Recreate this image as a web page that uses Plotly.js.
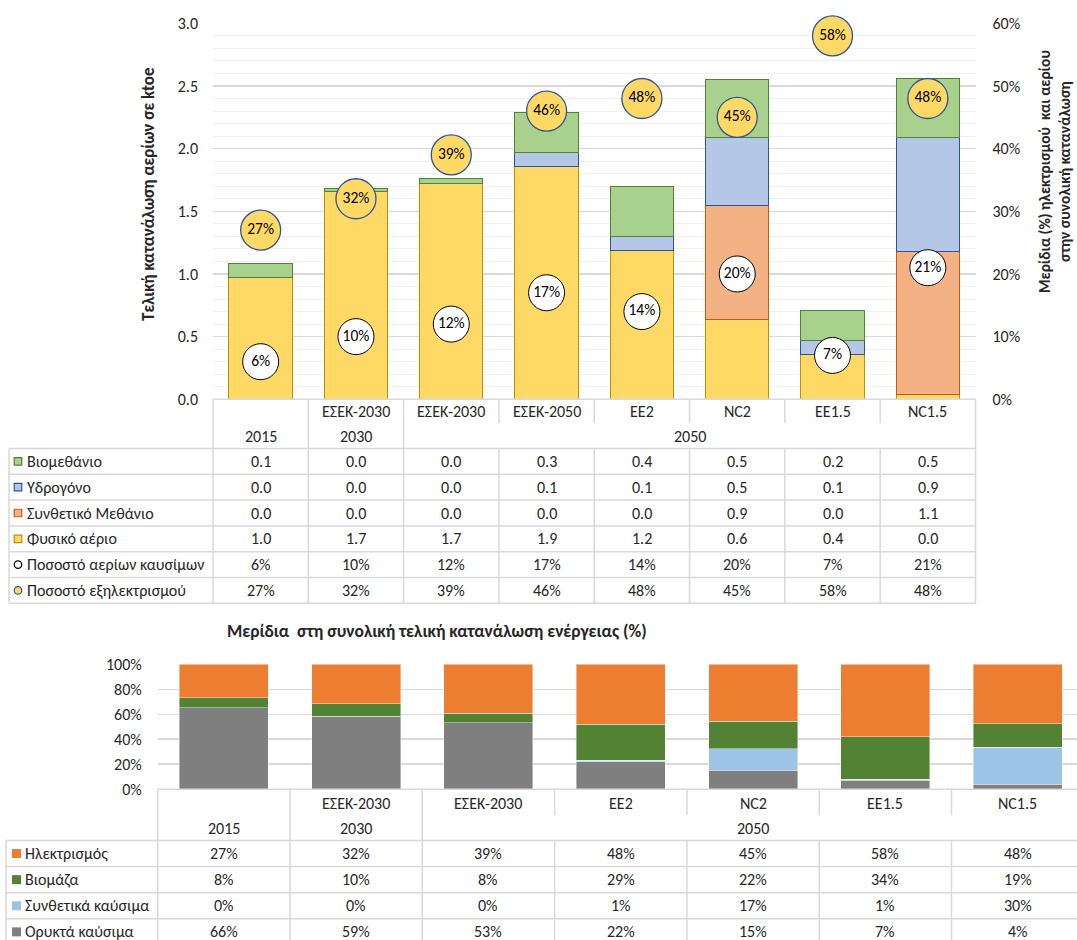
<!DOCTYPE html>
<html>
<head>
<meta charset="utf-8">
<script src="https://cdn.plot.ly/plotly-3.0.1.min.js"></script>
<style>
  html, body { margin: 0; padding: 0; background: #ffffff; }
  #chart { width: 1077px; height: 940px; }
</style>
</head>
<body>
<div id="chart"></div>
<script>
// ---------- DATA: top chart (ktoe and shares) ----------
const scenariosTop = ['', 'ΕΣΕΚ-2030', 'ΕΣΕΚ-2030', 'ΕΣΕΚ-2050', 'EE2', 'NC2', 'EE1.5', 'NC1.5'];
const yearsTop = ['2015', '2030', '2050', '2050', '2050', '2050', '2050', '2050'];
const biomethane = [0.11, 0.02, 0.04, 0.32, 0.40, 0.46, 0.24, 0.47];
const hydrogen = [0.00, 0.00, 0.00, 0.11, 0.11, 0.54, 0.11, 0.91];
const syntheticMethane = [0.00, 0.00, 0.00, 0.00, 0.00, 0.91, 0.00, 1.14];
const naturalGas = [0.97, 1.66, 1.72, 1.86, 1.19, 0.64, 0.36, 0.04];
const gasShare = [6, 10, 12, 17, 14, 20, 7, 21];
const electrificationShare = [27, 32, 39, 46, 48, 45, 58, 48];

// ---------- DATA: bottom chart (% of total final energy consumption) ----------
const scenariosBottom = ['', 'ΕΣΕΚ-2030', 'ΕΣΕΚ-2030', 'EE2', 'NC2', 'EE1.5', 'NC1.5'];
const yearsBottom = ['2015', '2030', '2050', '2050', '2050', '2050', '2050'];
const electricity = [27, 32, 39, 48, 45, 58, 48];
const biomass = [8, 10, 8, 29, 22, 34, 19];
const syntheticFuels = [0, 0, 0, 1, 17, 1, 30];
const fossilFuels = [66, 59, 53, 22, 15, 7, 4];

// ---------- geometry / style ----------
const W = 1077, H = 940;
const px = v => v / W;
const py = v => 1 - v / H;
const FONT = 'Carlito, Calibri, Roboto, "Noto Sans", sans-serif';
const TXT = '#262626';
const GRID = '#D9D9D9';
const TFS = 16;

const topG = { L: 213, R: 975.5, T: 23.3, B: 399.3, tick: 423, dataTop: 448.5, rowH: 25.8 };
const botG = { L: 157.7, col: 132.3, T: 664.3, B: 789.2, tick: 815, dataTop: 840.5, rowH: 26.1 };
const topCol = (topG.R - topG.L) / scenariosTop.length;

const nz = arr => arr.map(v => (v === 0 ? null : v));
const traces = [];

// top stacked bars
const xTop = scenariosTop.map((_, i) => i);
const topSeries = [
  { name: 'Φυσικό αέριο', y: naturalGas, fill: '#FFD966', line: '#BF9000' },
  { name: 'Συνθετικό Μεθάνιο', y: syntheticMethane, fill: '#F4B183', line: '#C55A11' },
  { name: 'Υδρογόνο', y: hydrogen, fill: '#B4C7E7', line: '#2F5597' },
  { name: 'Βιομεθάνιο', y: biomethane, fill: '#A9D18E', line: '#548235' }
];
topSeries.forEach(s => traces.push({
  type: 'bar', x: xTop, y: nz(s.y), name: s.name, width: 0.665,
  marker: { color: s.fill, line: { color: s.line, width: 1 } },
  xaxis: 'x', yaxis: 'y', hoverinfo: 'skip'
}));

// circles (secondary axis)
traces.push({
  type: 'scatter', mode: 'markers+text', x: xTop, y: gasShare,
  text: gasShare.map(v => v + '%'), textposition: 'middle center',
  textfont: { family: FONT, size: 15.5, color: '#000000' },
  marker: { size: 36, color: '#FFFFFF', line: { color: '#000000', width: 1 } },
  xaxis: 'x', yaxis: 'y2', cliponaxis: false, hoverinfo: 'skip'
});
traces.push({
  type: 'scatter', mode: 'markers+text', x: xTop, y: electrificationShare,
  text: electrificationShare.map(v => v + '%'), textposition: 'middle center',
  textfont: { family: FONT, size: 15.5, color: '#000000' },
  marker: { size: 40, color: '#FFD966', line: { color: '#2F5597', width: 1.3 } },
  xaxis: 'x', yaxis: 'y2', cliponaxis: false, hoverinfo: 'skip'
});

// bottom 100% stacked bars
const xBot = scenariosBottom.map((_, i) => i);
const totals = xBot.map(i => electricity[i] + biomass[i] + syntheticFuels[i] + fossilFuels[i]);
const norm = arr => arr.map((v, i) => (v === 0 ? null : v / totals[i] * 100));
const botSeries = [
  { name: 'Ορυκτά καύσιμα', y: fossilFuels, fill: '#7F7F7F' },
  { name: 'Συνθετικά καύσιμα', y: syntheticFuels, fill: '#9DC3E6' },
  { name: 'Βιομάζα', y: biomass, fill: '#548235' },
  { name: 'Ηλεκτρισμός', y: electricity, fill: '#ED7D31' }
];
botSeries.forEach(s => traces.push({
  type: 'bar', x: xBot, y: norm(s.y), name: s.name, width: 0.673,
  marker: { color: s.fill, line: { color: 'rgba(255,255,255,0.7)', width: 0.6 } },
  xaxis: 'x2', yaxis: 'y3', hoverinfo: 'skip'
}));

// ---------- table shapes ----------
const shapes = [];
const hline = (y, x0, x1) => shapes.push({ type: 'line', xref: 'paper', yref: 'paper',
  x0: px(x0), x1: px(x1), y0: py(y), y1: py(y), line: { color: GRID, width: 1.5 }, layer: 'above' });
const vline = (x, y0, y1) => shapes.push({ type: 'line', xref: 'paper', yref: 'paper',
  x0: px(x), x1: px(x), y0: py(y0), y1: py(y1), line: { color: GRID, width: 1.5 }, layer: 'above' });

const annotations = [];
const ann = (o) => annotations.push(Object.assign({ showarrow: false,
  font: { family: FONT, size: TFS, color: TXT } }, o));

function buildTable(g, left, colW, scen, years, rows, keyStyle) {
  const n = scen.length;
  const right = Math.min(W, g.L + n * colW);
  const bottom = g.dataTop + rows.length * g.rowH;
  hline(g.B, g.L, right);
  for (let r = 0; r <= rows.length; r++) hline(g.dataTop + r * g.rowH, left, right);
  vline(left, g.dataTop, bottom);
  vline(g.L, g.B, bottom);
  if (g.L + n * colW <= W) vline(right, g.B, bottom);
  for (let k = 1; k < n; k++) {
    const x = g.L + k * colW;
    if (years[k] !== years[k - 1]) vline(x, g.B, bottom);
    else { vline(x, g.B, g.tick); vline(x, g.dataTop, bottom); }
  }
  const xa = g.xref;
  scen.forEach((s, i) => { if (s) ann({ xref: xa, yref: 'paper', x: i, y: py(g.h1), text: s, xanchor: 'center', yanchor: 'middle' }); });
  let start = 0;
  for (let k = 1; k <= n; k++) {
    if (k === n || years[k] !== years[start]) {
      ann({ xref: xa, yref: 'paper', x: (start + k - 1) / 2, y: py(g.h2), text: years[start], xanchor: 'center', yanchor: 'middle' });
      start = k;
    }
  }
  rows.forEach((row, r) => {
    const yc = g.dataTop + (r + 0.5) * g.rowH;
    ann({ xref: 'paper', yref: 'paper', x: px(keyStyle.textX), y: py(yc), text: row.label, xanchor: 'left', yanchor: 'middle' });
    row.vals.forEach((v, i) => ann({ xref: xa, yref: 'paper', x: i, y: py(yc), text: v, xanchor: 'center', yanchor: 'middle' }));
    const k = row.key;
    const s = keyStyle.size;
    const cx = keyStyle.keyX;
    shapes.push({ type: k.type, xref: 'paper', yref: 'paper',
      x0: px(cx - s / 2), x1: px(cx + s / 2), y0: py(yc + s / 2), y1: py(yc - s / 2),
      fillcolor: k.fill, line: { color: k.line || k.fill, width: k.line ? 1.2 : 0 }, layer: 'above' });
  });
}

const topRows = [
  { label: 'Βιομεθάνιο', vals: biomethane.map(v => v.toFixed(1)), key: { type: 'rect', fill: '#A9D18E', line: '#548235' } },
  { label: 'Υδρογόνο', vals: hydrogen.map(v => v.toFixed(1)), key: { type: 'rect', fill: '#B4C7E7', line: '#2F5597' } },
  { label: 'Συνθετικό Μεθάνιο', vals: syntheticMethane.map(v => v.toFixed(1)), key: { type: 'rect', fill: '#F4B183', line: '#C55A11' } },
  { label: 'Φυσικό αέριο', vals: naturalGas.map(v => v.toFixed(1)), key: { type: 'rect', fill: '#FFD966', line: '#BF9000' } },
  { label: 'Ποσοστό αερίων καυσίμων', vals: gasShare.map(v => v + '%'), key: { type: 'circle', fill: '#FFFFFF', line: '#000000' } },
  { label: 'Ποσοστό εξηλεκτρισμού', vals: electrificationShare.map(v => v + '%'), key: { type: 'circle', fill: '#FFD966', line: '#2F5597' } }
];
const botRows = [
  { label: 'Ηλεκτρισμός', vals: electricity.map(v => v + '%'), key: { type: 'rect', fill: '#ED7D31' } },
  { label: 'Βιομάζα', vals: biomass.map(v => v + '%'), key: { type: 'rect', fill: '#548235' } },
  { label: 'Συνθετικά καύσιμα', vals: syntheticFuels.map(v => v + '%'), key: { type: 'rect', fill: '#9DC3E6' } },
  { label: 'Ορυκτά καύσιμα', vals: fossilFuels.map(v => v + '%'), key: { type: 'rect', fill: '#7F7F7F' } }
];

topG.xref = 'x'; topG.h1 = 411.5; topG.h2 = 436.7;
botG.xref = 'x2'; botG.h1 = 803; botG.h2 = 828.3;
buildTable(topG, 9, topCol, scenariosTop, yearsTop, topRows, { textX: 25, keyX: 18, size: 7.5 });
buildTable(botG, 6, botG.col, scenariosBottom, yearsBottom, botRows, { textX: 23, keyX: 16.5, size: 9 });

// titles
ann({ xref: 'paper', yref: 'paper', x: px(148), y: py(194), textangle: -90,
  text: '<b>Τελική κατανάλωση αερίων σε ktoe</b>', xanchor: 'center', yanchor: 'middle',
  font: { family: FONT, size: 17, color: TXT } });
ann({ xref: 'paper', yref: 'paper', x: px(1055), y: py(172), textangle: -90,
  text: '<b>Μερίδια (%) ηλεκτρισμού  και αερίου<br>στην συνολική κατανάλωση</b>', xanchor: 'center', yanchor: 'middle',
  borderpad: 0,
  font: { family: FONT, size: 15.5, color: TXT } });
ann({ xref: 'paper', yref: 'paper', x: px(437), y: py(631),
  text: '<b>Μερίδια  στη συνολική τελική κατανάλωση ενέργειας (%)</b>', xanchor: 'center', yanchor: 'middle',
  font: { family: FONT, size: 17.5, color: TXT } });

const tickFont = { family: FONT, size: TFS, color: TXT };
const layout = {
  width: W, height: H,
  margin: { l: 0, r: 0, t: 0, b: 0, pad: 0 },
  paper_bgcolor: '#FFFFFF', plot_bgcolor: '#FFFFFF',
  barmode: 'stack', showlegend: false,
  xaxis: { domain: [px(topG.L), px(topG.R)], range: [-0.5, scenariosTop.length - 0.5], anchor: 'y',
    showgrid: false, zeroline: false, showticklabels: false, showline: false, ticks: '' },
  yaxis: { domain: [py(topG.B), py(topG.T)], range: [0, 3], dtick: 0.5, tickformat: '.1f', anchor: 'x',
    gridcolor: GRID, gridwidth: 1.5, zeroline: false, ticks: '', ticklabelstandoff: 14, tickfont: tickFont,
    minor: { dtick: 0.1, showgrid: true, gridcolor: '#F0F0F0', gridwidth: 1, ticks: '' } },
  yaxis2: { overlaying: 'y', side: 'right', anchor: 'x', range: [0, 60], dtick: 10, ticksuffix: '%',
    showgrid: false, zeroline: false, ticks: '', ticklabelstandoff: 16, tickfont: tickFont },
  xaxis2: { domain: [px(botG.L), 1], range: [-0.5, -0.5 + (W - botG.L) / botG.col], anchor: 'y3',
    showgrid: false, zeroline: false, showticklabels: false, showline: false, ticks: '' },
  yaxis3: { domain: [py(botG.B), py(botG.T)], range: [0, 100], dtick: 20, ticksuffix: '%', anchor: 'x2',
    gridcolor: GRID, gridwidth: 1.5, zeroline: false, ticks: '', ticklabelstandoff: 15, tickfont: tickFont },
  shapes: shapes,
  annotations: annotations
};

Plotly.newPlot('chart', traces, layout, { staticPlot: true, displayModeBar: false });
</script>
</body>
</html>
